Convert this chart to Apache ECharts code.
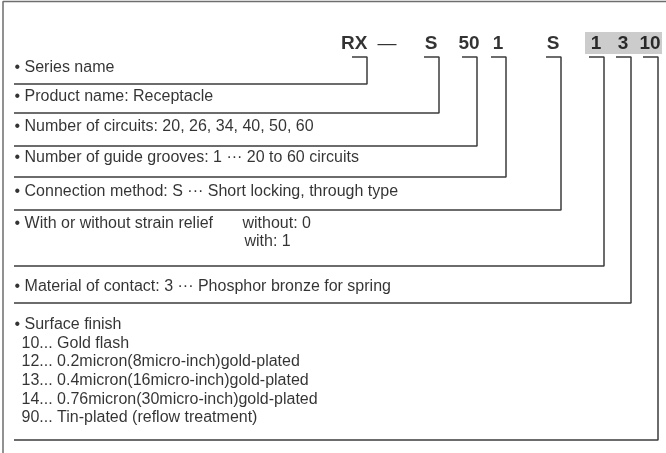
<!DOCTYPE html>
<html>
<head>
<meta charset="utf-8">
<script src="https://cdn.jsdelivr.net/npm/echarts@6/dist/echarts.min.js"></script>
<style>
  html, body { margin: 0; padding: 0; background: #fff; }
  #main { width: 666px; height: 453px; }
</style>
</head>
<body>
<div id="main"></div>
<script>
// part-number code and what each field means
var codes = ['RX', 'S', '50', '1', 'S', '1', '3', '10'];
var rowTexts = [
    '\u2022 Series name',
    '\u2022 Product name: Receptacle',
    '\u2022 Number of circuits: 20, 26, 34, 40, 50, 60',
    '\u2022 Number of guide grooves: 1 \u00b7\u00b7\u00b7 20 to 60 circuits',
    '\u2022 Connection method: S \u00b7\u00b7\u00b7 Short locking, through type',
    '\u2022 With or without strain relief',
    '\u2022 Material of contact: 3 \u00b7\u00b7\u00b7 Phosphor bronze for spring',
    '\u2022 Surface finish'
];
var strainOptions = ['without: 0', 'with: 1'];
var finishItems = [
    '10... Gold flash',
    '12... 0.2micron(8micro-inch)gold-plated',
    '13... 0.4micron(16micro-inch)gold-plated',
    '14... 0.76micron(30micro-inch)gold-plated',
    '90... Tin-plated (reflow treatment)'
];

// layout (pixels in a 666 x 453 box)
var leaderX = [367, 439, 477, 506, 561, 604, 631, 658];
var rowLineY = [84, 113, 146, 177, 210, 266, 303, 440];
var rowTextY = [68, 97, 127, 158, 192, 224, 287, 325];
var tickY = 57, codeY = 44, lineLeft = 14, textLeft = 15;

var font = '"Liberation Sans", Arial, sans-serif';
var lineColor = '#3c3c3c';

var series = [];

function textSeries(x, y, str, opts) {
    opts = opts || {};
    return {
        type: 'scatter',
        symbolSize: 1,
        itemStyle: { color: 'rgba(0,0,0,0)' },
        silent: true,
        data: [[x, y]],
        label: {
            show: true,
            position: [0, 0],
            align: opts.align || 'left',
            verticalAlign: 'middle',
            formatter: function () { return str; },
            color: '#000',
            fontFamily: font,
            fontSize: opts.size || 16,
            fontWeight: opts.weight || 'normal'
        }
    };
}

function pathSeries(points, color, width) {
    return {
        type: 'line',
        silent: true,
        symbol: 'none',
        data: points,
        lineStyle: { color: color, width: width }
    };
}

// outer frame (left and top only, rest is cropped)
series.push(pathSeries([[3, 453], [3, 1.5], [666, 1.5]], '#6e6e6e', 1.5));

// grey highlight behind the last three code fields
series.push({
    type: 'line',
    data: [],
    markArea: {
        silent: true,
        itemStyle: { color: '#cccccc' },
        data: [[{ coord: [585, 32] }, { coord: [662, 54] }]]
    }
});

// leaders: tick under the code, drop to the row, run left
codes.forEach(function (c, i) {
    var x = leaderX[i];
    series.push(pathSeries([[x - 15, tickY], [x, tickY], [x, rowLineY[i]], [lineLeft, rowLineY[i]]], lineColor, 1.5));
    if (i === 0) {
        series.push(textSeries(x + 1, codeY, c, { align: 'right', size: 19, weight: 'bold' }));
    } else {
        series.push(textSeries(x - 7.5, codeY, c, { align: 'center', size: 19, weight: 'bold' }));
    }
});
series.push(textSeries(378, codeY, '\u2014', { size: 19 }));

rowTexts.forEach(function (t, i) {
    series.push(textSeries(textLeft, rowTextY[i], t));
});
strainOptions.forEach(function (t, i) {
    series.push(textSeries(i === 0 ? 243 : 245, rowTextY[5] + i * 18, t));
});
finishItems.forEach(function (t, i) {
    series.push(textSeries(22, rowTextY[7] + 18.7 * (i + 1), t));
});

var myChart = echarts.init(document.getElementById('main'));
var option = {
    animation: false,
    tooltip: { show: false },
    grid: { left: 0, right: 0, top: 0, bottom: 0 },
    xAxis: { type: 'value', min: 0, max: 666, show: false },
    yAxis: { type: 'value', min: 0, max: 453, inverse: true, show: false },
    series: series
};
myChart.setOption(option);
</script>
</body>
</html>
